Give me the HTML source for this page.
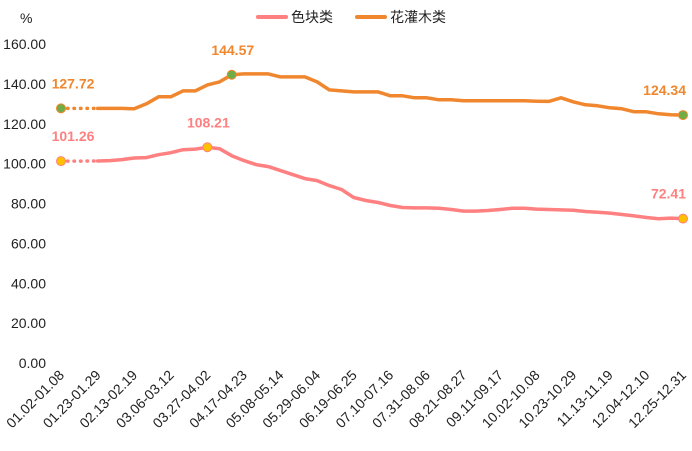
<!DOCTYPE html>
<html><head><meta charset="utf-8"><style>
body{margin:0;background:#fff}
svg text{font-family:"Liberation Sans","Noto Sans CJK SC",sans-serif}
</style></head><body>
<svg id="c" width="692" height="446"></svg>
<script>
const weeks = 52;
const xLabels = ["01.02-01.08","01.23-01.29","02.13-02.19","03.06-03.12","03.27-04.02","04.17-04.23","05.08-05.14","05.29-06.04","06.19-06.25","07.10-07.16","07.31-08.06","08.21-08.27","09.11-09.17","10.02-10.08","10.23-10.29","11.13-11.19","12.04-12.10","12.25-12.31"];
const yTicks = [0,20,40,60,80,100,120,140,160];
const shrub = [127.72,null,null,127.7,127.7,127.7,127.5,130,133.5,133.5,136.5,136.5,139.5,141,144.57,145,145,145,143.5,143.5,143.5,141,137,136.5,136,136,136,134,134,133,133,132,132,131.5,131.5,131.5,131.5,131.5,131.5,131.3,131.2,133,131,129.5,129,128,127.5,126,126,125,124.5,124.34];
const color = [101.26,null,null,101.3,101.5,102,102.8,103,104.5,105.5,107,107.3,108.21,107.5,104,101.5,99.5,98.5,96.5,94.5,92.5,91.5,89,87,83,81.5,80.5,79,78,77.8,77.8,77.6,77,76.2,76.2,76.5,77,77.6,77.6,77.2,77,76.8,76.6,76,75.6,75.2,74.5,73.8,73,72.4,72.7,72.41];
const shrubMarks = [0,14,51];
const colorMarks = [0,12,51];

const svg = document.getElementById('c');
const NS = 'http://www.w3.org/2000/svg';
const x = i => 61 + i*(683-61)/(weeks-1);
const y = v => 363 - v*(363-44)/160;
function mk(tag, attrs, parent){const e=document.createElementNS(NS,tag);for(const k in attrs)e.setAttribute(k,attrs[k]);(parent||svg).appendChild(e);return e;}

yTicks.forEach(t=>{
  const e=mk('text',{x:46,y:y(t)+5,'text-anchor':'end','font-size':14,fill:'#222'});
  e.textContent=t.toFixed(2);
  
  
});
const pct=mk('text',{x:20,y:23,'font-size':14,fill:'#222'});pct.textContent='%';



xLabels.forEach((l,k)=>{
  const px=x(k*3)+4, py=376;
  const e=mk('text',{x:px,y:py,'text-anchor':'end','font-size':14,fill:'#222',transform:`rotate(-45 ${px} ${py})`});
  e.textContent=l;
  
  
});

function series(vals, col, dot, marks, name){
  const g=mk('g',{});
  
  
  let first=0, next=vals.findIndex((v,i)=>i>0&&v!==null);
  const d=mk('line',{x1:x(first),y1:y(vals[first]),x2:x(next),y2:y(vals[next]),stroke:col,'stroke-width':3.5,'stroke-dasharray':'0.5 6','stroke-linecap':'round'},g);
  
  
  let pts=[];vals.forEach((v,i)=>{if(i>=next&&v!==null)pts.push(x(i).toFixed(1)+','+y(v).toFixed(1));});
  const p=mk('polyline',{points:pts.join(' '),fill:'none',stroke:col,'stroke-width':3.5,'stroke-linejoin':'round','stroke-linecap':'round'},g);
  
  
  marks.forEach(i=>{
    const c=mk('circle',{cx:x(i),cy:y(vals[i]),r:4.5,fill:dot,stroke:col,'stroke-width':1},g);
    
    
    const anchor=i===weeks-1?'end':'middle';
    const tx=i===weeks-1?x(i)+3:(i===0?x(i)+12:x(i)+1);
    const t=mk('text',{x:tx,y:y(vals[i])-20,'text-anchor':anchor,'font-size':14,'font-weight':'bold',fill:col},g);
    t.textContent=vals[i].toFixed(2);
    
    
  });
}
series(shrub,'#F0872F','#70AD47',shrubMarks,'shrub');
series(color,'#FF8080','#FFC000',colorMarks,'color-block');

const lg=mk('g',{});


[['色块类','#FF8080',258],['花灌木类','#F0872F',357]].forEach(([t,c,lx])=>{
  const l=mk('line',{x1:lx,y1:17,x2:lx+28,y2:17,stroke:c,'stroke-width':4,'stroke-linecap':'round'},lg);
  
  
  const e=mk('text',{x:lx+33,y:22,'font-size':14,fill:'#222'},lg);e.textContent=t;
  
  
});
</script>
</body></html>
